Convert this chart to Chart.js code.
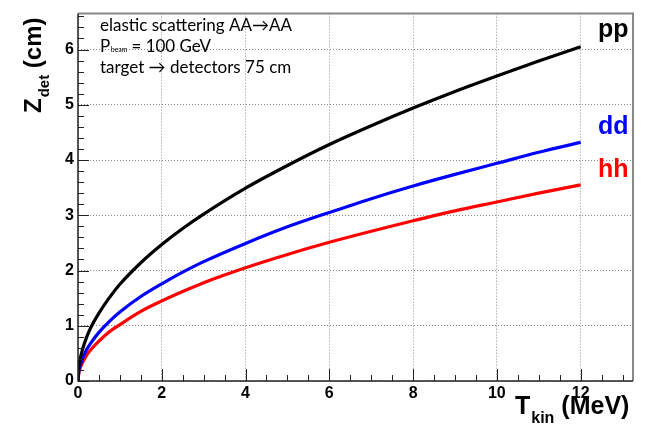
<!DOCTYPE html>
<html>
<head>
<meta charset="utf-8">
<script src="https://cdn.jsdelivr.net/npm/chart.js@4.4.1/dist/chart.umd.min.js"></script>
<style>
  html, body { margin: 0; padding: 0; background: #fff; }
  #wrap { width: 646px; height: 429px; }
</style>
</head>
<body>
<div id="wrap"><canvas id="c" width="646" height="429"></canvas></div>
<script>
// Kinetic energy of the recoil (MeV)
const tkin = [0, 0.02, 0.05, 0.1, 0.2, 0.3, 0.5, 0.75, 1, 1.5, 2, 2.5, 3, 4, 5, 6, 7, 8, 9, 10, 11, 12];
// Detector z position (cm) for each elastic channel
const zPP = [0, 0.25, 0.39, 0.55, 0.78, 0.96, 1.23, 1.51, 1.75, 2.14, 2.47, 2.76, 3.02, 3.49, 3.90, 4.28, 4.62, 4.94, 5.24, 5.52, 5.79, 6.05];
const zDD = [0, 0.18, 0.28, 0.39, 0.56, 0.68, 0.88, 1.08, 1.25, 1.53, 1.76, 1.97, 2.16, 2.49, 2.79, 3.05, 3.30, 3.53, 3.74, 3.94, 4.14, 4.32];
const zHH = [0, 0.145, 0.23, 0.32, 0.46, 0.56, 0.72, 0.89, 1.02, 1.26, 1.45, 1.62, 1.78, 2.05, 2.29, 2.51, 2.71, 2.90, 3.08, 3.24, 3.40, 3.55];

const seriesNames = ['pp', 'dd', 'hh'];
const seriesColors = ['#000000', '#0000ff', '#ff0000'];
const xTicks = [0, 2, 4, 6, 8, 10, 12];
const yTicks = [0, 1, 2, 3, 4, 5, 6];
const infoLines = ['elastic scattering AA\u2192AA', 'P', 'target \u2192 detectors 75 cm'];

const X_MIN = 0, X_MAX = 13.25, Y_MIN = 0, Y_MAX = 6.65;

function toPoints(ys) { return tkin.map((t, i) => ({ x: t, y: ys[i] })); }

const SANS = '"Liberation Sans", Arial, sans-serif';
const INFO = 'Lato, "Open Sans", sans-serif';

const framePlugin = {
  id: 'frameAndLabels',
  afterDraw(chart) {
    const ctx = chart.ctx;
    const a = chart.chartArea;
    const xs = chart.scales.x, ys = chart.scales.y;
    ctx.save();

    // inner tick marks
    ctx.strokeStyle = '#222';
    ctx.lineWidth = 1;
    for (let v = 0; v <= X_MAX + 1e-9; v += 0.5) {
      const px = Math.round(xs.getPixelForValue(v)) + 0.5;
      const major = Math.abs(v / 2 - Math.round(v / 2)) < 1e-9;
      const len = major ? 12 : 6;
      ctx.beginPath(); ctx.moveTo(px, a.bottom); ctx.lineTo(px, a.bottom - len); ctx.stroke();
    }
    for (let k = 0; k <= Math.floor(Y_MAX * 5 + 1e-9); k++) {
      const v = k / 5;
      const py = Math.round(ys.getPixelForValue(v)) + 0.5;
      const len = (k % 5 === 0) ? 11 : 6;
      ctx.beginPath(); ctx.moveTo(a.left, py); ctx.lineTo(a.left + len, py); ctx.stroke();
    }

    // frame
    ctx.strokeStyle = '#888';
    ctx.lineWidth = 2;
    ctx.beginPath();
    ctx.moveTo(a.left, a.top); ctx.lineTo(a.right, a.top); ctx.lineTo(a.right, a.bottom);
    ctx.stroke();
    ctx.strokeStyle = '#222';
    ctx.lineWidth = 1.5;
    ctx.beginPath();
    ctx.moveTo(a.left, a.top); ctx.lineTo(a.left, a.bottom); ctx.lineTo(a.right, a.bottom);
    ctx.stroke();

    // series names at the right end of each curve
    ctx.font = 'bold 25px ' + SANS;
    ctx.textAlign = 'left';
    ctx.textBaseline = 'alphabetic';
    const nameBase = [37, 134, 177];
    seriesNames.forEach((n, i) => {
      ctx.fillStyle = seriesColors[i];
      ctx.fillText(n, 598, nameBase[i]);
    });

    // info text
    ctx.fillStyle = '#000';
    ctx.font = '17px ' + INFO;
    ctx.fillText(infoLines[0], 100, 31);
    ctx.fillText('P', 100, 52);
    const w = ctx.measureText('P').width;
    ctx.font = '7px ' + INFO;
    ctx.fillText('beam', 100 + w + 0.5, 52);
    const w2 = ctx.measureText('beam').width;
    ctx.font = '17px ' + INFO;
    ctx.fillText(' = 100 GeV', 100 + w + w2, 52);
    ctx.fillText(infoLines[2], 100, 73);

    // x axis title
    ctx.fillStyle = '#000';
    ctx.font = 'bold 25px ' + SANS;
    let x = 515;
    ctx.fillText('T', x, 414);
    x += ctx.measureText('T').width + 1;
    ctx.font = 'bold 16px ' + SANS;
    ctx.fillText('kin', x, 423);
    x += ctx.measureText('kin').width;
    ctx.font = 'bold 25px ' + SANS;
    ctx.fillText(' (MeV)', x, 414);

    // y axis title
    ctx.translate(41, 113);
    ctx.rotate(-Math.PI / 2);
    x = 0;
    ctx.font = 'bold 24px ' + SANS;
    ctx.fillText('Z', x, 0);
    x += ctx.measureText('Z').width + 1;
    ctx.font = 'bold 15px ' + SANS;
    ctx.fillText('det', x, 8);
    x += ctx.measureText('det').width;
    ctx.font = 'bold 24px ' + SANS;
    ctx.fillText(' (cm)', x, 0);

    ctx.restore();
  }
};

new Chart(document.getElementById('c'), {
  type: 'scatter',
  data: {
    datasets: [zPP, zDD, zHH].map((ys, i) => ({
      label: seriesNames[i],
      data: toPoints(ys),
      showLine: true,
      borderColor: seriesColors[i],
      backgroundColor: seriesColors[i],
      borderWidth: 3.2,
      pointRadius: 0,
      cubicInterpolationMode: 'monotone',
      fill: false
    }))
  },
  options: {
    responsive: false,
    animation: false,
    devicePixelRatio: 1,
    layout: { padding: { left: 0, right: 13, top: 6, bottom: 0 } },
    plugins: { legend: { display: false }, tooltip: { enabled: false } },
    scales: {
      x: {
        type: 'linear', min: X_MIN, max: X_MAX,
        afterBuildTicks: s => { s.ticks = xTicks.map(v => ({ value: v })); },
        afterFit: s => { s.height = 48; },
        ticks: { font: { family: SANS, size: 16, weight: 'bold' }, color: '#000', padding: 3, maxRotation: 0 },
        grid: { color: '#8a8a8a', lineWidth: 1, drawTicks: false },
        border: { display: false, dash: [1, 2] }
      },
      y: {
        type: 'linear', min: Y_MIN, max: Y_MAX,
        afterBuildTicks: s => { s.ticks = yTicks.map(v => ({ value: v })); },
        afterFit: s => { s.width = 78; },
        ticks: { font: { family: SANS, size: 16, weight: 'bold' }, color: '#000', padding: 4 },
        grid: { color: '#8a8a8a', lineWidth: 1, drawTicks: false },
        border: { display: false, dash: [1, 2] }
      }
    }
  },
  plugins: [framePlugin]
});
</script>
</body>
</html>
